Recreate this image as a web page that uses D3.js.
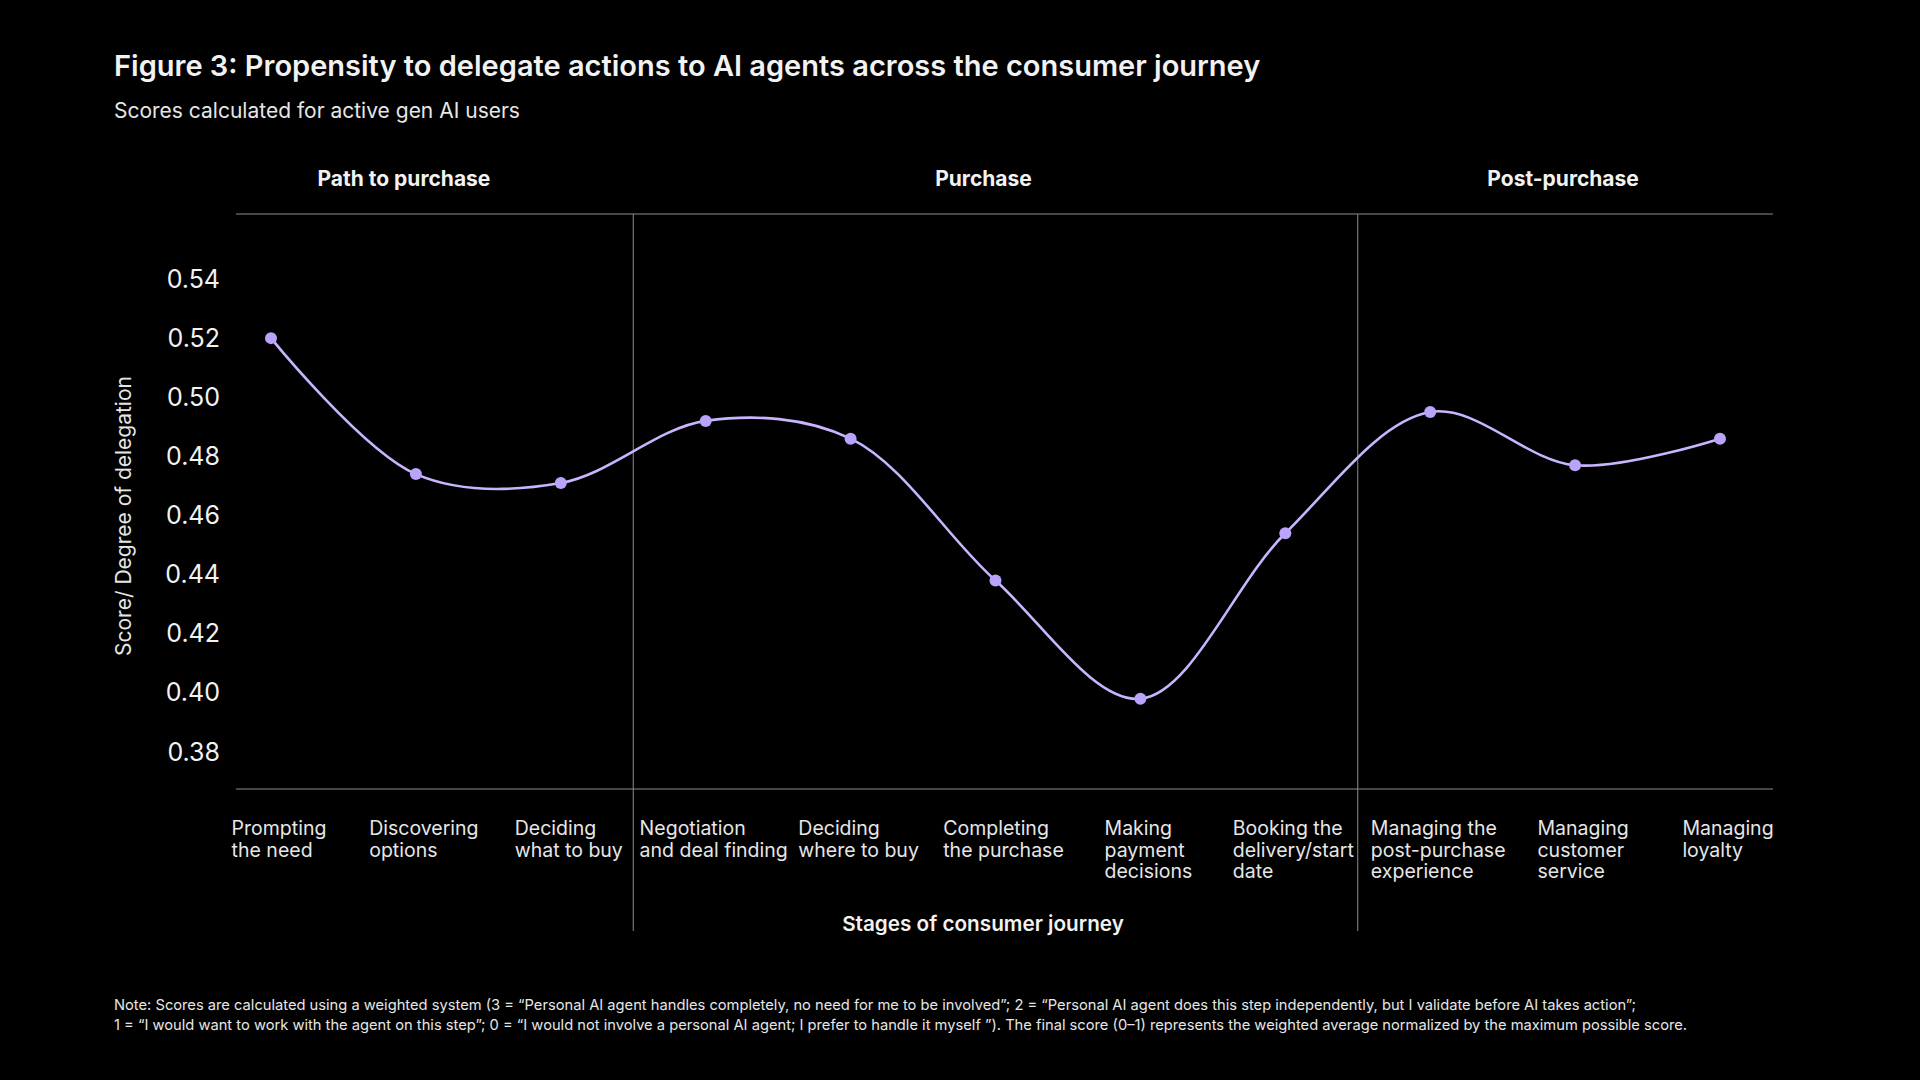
<!DOCTYPE html>
<html>
<head>
<meta charset="utf-8">
<script src="https://cdn.jsdelivr.net/npm/d3@7"></script>
<style>
    body { margin: 0; background: #000; }
    svg { display: block; }
    text { font-family: Inter, "Noto Sans", sans-serif; fill: #f2f2f2; }
</style>
</head>
<body>
<div class="chart-container"></div>
<script>
// Stages of the consumer journey (label lines) and their scores
const stages = [
    ["Prompting", "the need"],
    ["Discovering", "options"],
    ["Deciding", "what to buy"],
    ["Negotiation", "and deal finding"],
    ["Deciding", "where to buy"],
    ["Completing", "the purchase"],
    ["Making", "payment", "decisions"],
    ["Booking the", "delivery/start", "date"],
    ["Managing the", "post-purchase", "experience"],
    ["Managing", "customer", "service"],
    ["Managing", "loyalty"]
];
const scores = [0.520, 0.474, 0.471, 0.492, 0.486, 0.438, 0.398, 0.454, 0.495, 0.477, 0.486];

// Which group each stage belongs to
const groupNames = ["Path to purchase", "Purchase", "Post-purchase"];
const stageGroup = [0, 0, 0, 1, 1, 1, 1, 1, 2, 2, 2];

const yTicks = [0.38, 0.40, 0.42, 0.44, 0.46, 0.48, 0.50, 0.52, 0.54];

const title = "Figure 3: Propensity to delegate actions to AI agents across the consumer journey";
const subtitle = "Scores calculated for active gen AI users";
const noteLines = [
    "Note: Scores are calculated using a weighted system (3 = \u201cPersonal AI agent handles completely, no need for me to be involved\u201d; 2 = \u201cPersonal AI agent does this step independently, but I validate before AI takes action\u201d;",
    "1 = \u201cI would want to work with the agent on this step\u201d; 0 = \u201cI would not involve a personal AI agent; I prefer to handle it myself \u201d). The final score (0\u20131) represents the weighted average normalized by the maximum possible score."
];

function draw() {
    const width = 1920;
    const height = 1080;
    const lineLeft = 236;
    const lineRight = 1773;
    const topLine = 214;
    const bottomLine = 789;
    const dividerBottom = 931;
    const lineColor = "#c9b5ff";
    const dotColor = "#b9a3fb";
    const ruleColor = "#8c8c8c";

    const data = stages.map((s, i) => ({ i: i, lines: s, score: scores[i], group: stageGroup[i] }));

    // x: one point per stage
    const x = d3.scalePoint()
        .domain(d3.range(stages.length))
        .range([271, 1720]);

    // y: score
    const y = d3.scaleLinear()
        .domain([0.38, 0.54])
        .range([752, 279]);

    const svg = d3.select(".chart-container").append("svg")
        .attr("width", width)
        .attr("height", height)
        .style("background", "#000");

    // Title and subtitle
    svg.append("text")
        .attr("x", 114)
        .attr("y", 76)
        .style("font-size", "29px")
        .style("font-weight", 600)
        .text(title);

    svg.append("text")
        .attr("x", 114)
        .attr("y", 118)
        .style("font-size", "21px")
        .style("fill", "#e6e6e6")
        .text(subtitle);

    // Horizontal rules
    svg.append("line")
        .attr("x1", lineLeft).attr("x2", lineRight)
        .attr("y1", topLine).attr("y2", topLine)
        .attr("stroke", ruleColor).attr("stroke-width", 1.2);

    svg.append("line")
        .attr("x1", lineLeft).attr("x2", lineRight)
        .attr("y1", bottomLine).attr("y2", bottomLine)
        .attr("stroke", ruleColor).attr("stroke-width", 1.2);

    // Group dividers, between the last stage of one group and the first of the next
    const dividers = [];
    for (let i = 1; i < data.length; i++) {
        if (data[i].group !== data[i - 1].group) dividers.push((x(i - 1) + x(i)) / 2);
    }
    svg.selectAll(".divider")
        .data(dividers)
        .enter()
        .append("line")
        .attr("class", "divider")
        .attr("x1", d => d).attr("x2", d => d)
        .attr("y1", topLine).attr("y2", dividerBottom)
        .attr("stroke", ruleColor).attr("stroke-width", 1);

    // Group headers
    svg.selectAll(".group-label")
        .data(groupNames)
        .enter()
        .append("text")
        .attr("class", "group-label")
        .attr("x", (d, g) => {
            const members = data.filter(s => s.group === g);
            return (x(members[0].i) + x(members[members.length - 1].i)) / 2 - 12;
        })
        .attr("y", 186)
        .attr("text-anchor", "middle")
        .style("font-size", "21px")
        .style("font-weight", 700)
        .text(d => d);

    // Y axis
    const yAxis = svg.append("g")
        .attr("transform", `translate(${lineLeft},0)`)
        .call(d3.axisLeft(y).tickValues(yTicks).tickSize(0).tickPadding(16).tickFormat(d3.format(".2f")));
    yAxis.select(".domain").remove();
    yAxis.selectAll("text")
        .style("font-family", "Inter, 'Noto Sans', sans-serif")
        .style("font-size", "25px")
        .style("fill", "#f2f2f2");

    svg.append("text")
        .attr("transform", "translate(131,516) rotate(-90)")
        .attr("text-anchor", "middle")
        .style("font-size", "21px")
        .style("fill", "#e6e6e6")
        .text("Score/ Degree of delegation");

    // Stage labels, each block centred under its point
    const labels = svg.selectAll(".stage-label")
        .data(data)
        .enter()
        .append("text")
        .attr("class", "stage-label")
        .style("font-size", "19.5px")
        .style("fill", "#e6e6e6");

    labels.each(function (d) {
        const t = d3.select(this);
        d.lines.forEach((line, k) => {
            t.append("tspan")
                .attr("x", 0)
                .attr("dy", k === 0 ? 0 : 21.5)
                .text(line);
        });
        const w = this.getBBox().width;
        const left = x(d.i) - w / 2 + 8;
        t.attr("x", left).attr("y", 835);
        t.selectAll("tspan").attr("x", left);
    });

    svg.append("text")
        .attr("x", 983)
        .attr("y", 931)
        .attr("text-anchor", "middle")
        .style("font-size", "20.7px")
        .style("font-weight", 600)
        .text("Stages of consumer journey");

    // Line and points
    const line = d3.line()
        .x(d => x(d.i))
        .y(d => y(d.score))
        .curve(d3.curveCatmullRom.alpha(0.5));

    svg.append("path")
        .datum(data)
        .attr("d", line)
        .attr("fill", "none")
        .attr("stroke", lineColor)
        .attr("stroke-width", 2.6);

    svg.selectAll(".dot")
        .data(data)
        .enter()
        .append("circle")
        .attr("class", "dot")
        .attr("cx", d => x(d.i))
        .attr("cy", d => y(d.score))
        .attr("r", 6)
        .attr("fill", dotColor);

    // Note
    svg.selectAll(".note")
        .data(noteLines)
        .enter()
        .append("text")
        .attr("class", "note")
        .attr("x", 114)
        .attr("y", (d, i) => 1010 + i * 20)
        .style("font-size", "14.7px")
        .style("fill", "#e6e6e6")
        .text(d => d);
}

draw();
</script>
</body>
</html>
